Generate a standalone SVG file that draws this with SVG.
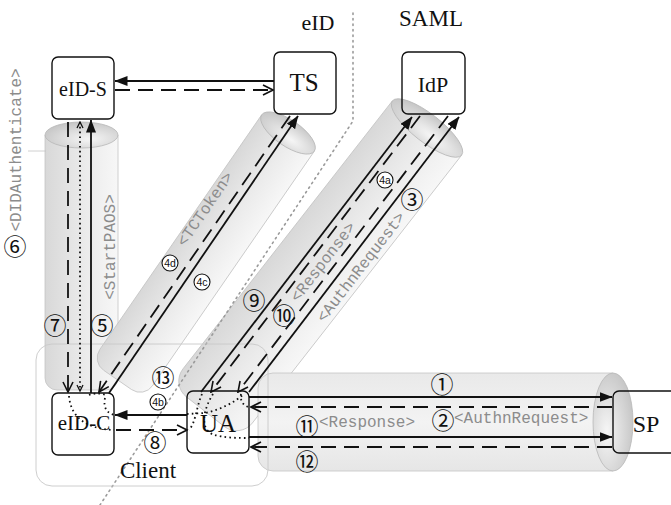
<svg xmlns="http://www.w3.org/2000/svg" width="671" height="505" viewBox="0 0 671 505">
<style>
.box{fill:none;stroke:#111;stroke-width:1.4}
.lbl{font-family:"Liberation Serif",serif;fill:#111;text-anchor:middle}
.mono{font-family:"Liberation Mono",monospace;font-size:16px;fill:#8c8c8c}
.cn{font-family:"Noto Sans CJK JP",sans-serif;font-size:23px;fill:#111;text-anchor:middle;dominant-baseline:central}
.cc{fill:#fff;stroke:#111;stroke-width:1.1}
.ct{font-family:"Liberation Sans",sans-serif;font-size:10.5px;fill:#111;text-anchor:middle;dominant-baseline:central}
.tube{stroke:#c4c4c4;stroke-width:0.8}
.cap{stroke:#b8b8b8;stroke-width:0.8}
.sol{fill:none;stroke:#111;stroke-width:1.8;marker-end:url(#fa)}
.das{fill:none;stroke:#111;stroke-width:1.8;stroke-dasharray:15 8;marker-end:url(#oa)}
.dot{fill:none;stroke:#111;stroke-width:1.8;stroke-dasharray:1.6 3.2}
</style>
<defs>
<marker id="fa" viewBox="0 0 13 10" refX="12.5" refY="5" markerWidth="13" markerHeight="10" markerUnits="userSpaceOnUse" orient="auto"><path d="M0,0 L13,5 L0,10 z" fill="#111"/></marker>
<marker id="oa" viewBox="0 0 12 12" refX="11" refY="6" markerWidth="12" markerHeight="12" markerUnits="userSpaceOnUse" orient="auto"><path d="M1,1 L11,6 L1,11" fill="none" stroke="#111" stroke-width="1.6"/></marker>
<marker id="da" viewBox="0 0 8 8" refX="7" refY="4" markerWidth="8" markerHeight="8" markerUnits="userSpaceOnUse" orient="auto-start-reverse"><path d="M1,1 L7,4 L1,7" fill="none" stroke="#111" stroke-width="1.3"/></marker>
<linearGradient id="gBody" x1="0" y1="0" x2="1" y2="0"><stop offset="0" stop-color="#d8d8d8"/><stop offset="0.55" stop-color="#ebebeb"/><stop offset="1" stop-color="#f7f7f7"/></linearGradient>
<linearGradient id="gSP" x1="0" y1="0" x2="1" y2="0"><stop offset="0" stop-color="#e9e9e9"/><stop offset="0.5" stop-color="#f3f3f3"/><stop offset="1" stop-color="#e6e6e6"/></linearGradient>
<radialGradient id="gCap" cx="0.6" cy="0.65" r="0.7"><stop offset="0" stop-color="#f6f6f6"/><stop offset="1" stop-color="#c4c4c4"/></radialGradient>
</defs>

<g id="tubes">
<g id="tube-eid" transform="translate(81.5,135)">
<path class="tube" fill="url(#gBody)" d="M-36.5,0 L-36.5,243 A12,12 0 0 0 -24.5,255 L24.5,255 A12,12 0 0 0 36.5,243 L36.5,0 Z"/>
<ellipse class="cap" fill="url(#gCap)" cx="0" cy="0" rx="36.5" ry="13"/>
</g>
<line x1="28" y1="151" x2="46" y2="151" stroke="#c4c4c4" stroke-width="0.8"/>
<g id="tube-ts" transform="translate(288,133) rotate(34.6)">
<path class="tube" fill="url(#gBody)" d="M-32,0 L-32,285 A15,15 0 0 0 -17,300 L17,300 A15,15 0 0 0 32,285 L32,0 Z"/>
<ellipse class="cap" fill="url(#gCap)" cx="0" cy="0" rx="32" ry="13"/>
</g>
<g id="tube-idp" transform="translate(427,128) rotate(38)">
<path class="tube" fill="url(#gBody)" d="M-44,0 L-44,340 A20,20 0 0 0 -24,360 L24,360 A20,20 0 0 0 44,340 L44,0 Z"/>
<ellipse class="cap" fill="url(#gCap)" cx="0" cy="0" rx="44" ry="14"/>
</g>
<g id="tube-sp" transform="translate(613,422) rotate(90)">
<path class="tube" fill="url(#gSP)" d="M-49,0 L-49,340 A15,15 0 0 0 -34,355 L34,355 A15,15 0 0 0 49,340 L49,0 Z"/>
<ellipse class="cap" fill="url(#gCap)" cx="0" cy="0" rx="49" ry="20"/>
</g>
</g>

<g id="divider">
<path d="M353,13 L353,121 L100,505" fill="none" stroke="#9a9a9a" stroke-width="1.6" stroke-dasharray="1.5 4" stroke-linecap="round"/>
<text class="lbl" x="318" y="30" font-size="22">eID</text>
<text class="lbl" x="431" y="26" font-size="23">SAML</text>
</g>

<g id="client">
<rect x="36" y="344" width="232" height="142" rx="16" fill="none" stroke="#c8c8c8" stroke-width="0.9"/>
<text class="lbl" x="148" y="478" font-size="23">Client</text>
</g>

<g id="eID-S"><rect class="box" x="52" y="57" width="62" height="62" rx="6"/><text class="lbl" x="83" y="96" font-size="20">eID-S</text></g>
<g id="TS"><rect class="box" x="274" y="52" width="62" height="62" rx="6"/><text class="lbl" x="304" y="91" font-size="25">TS</text></g>
<g id="IdP"><rect class="box" x="402" y="52" width="63" height="62" rx="6"/><text class="lbl" x="433" y="92" font-size="22">IdP</text></g>
<g id="eID-C"><rect class="box" x="52" y="393" width="62" height="62" rx="6"/><text class="lbl" x="84" y="430" font-size="21">eID-C</text></g>
<g id="UA"><rect class="box" x="187" y="391" width="62" height="62" rx="6"/><text class="lbl" x="218" y="432" font-size="25">UA</text></g>
<g id="SP"><rect class="box" x="613" y="391" width="80" height="62" rx="6"/><text class="lbl" x="646" y="432" font-size="24">SP</text></g>

<g id="connectors">
<path class="sol" d="M274,81 L115,81"/>
<path class="das" d="M115,90 L273,90"/>
<path class="das" d="M68,122 L68,392"/>
<path class="dot" d="M80,122 L80,391" marker-start="url(#da)" marker-end="url(#da)"/>
<path class="sol" d="M91,393 L91,120"/>
<path class="das" d="M290,116 L99,392"/>
<path class="sol" d="M109,393 L298,116"/>
<path class="sol" d="M201,392 L412,117"/>
<path class="das" d="M420,116 L211,392"/>
<path class="das" d="M448,116 L238,392"/>
<path class="sol" d="M249,392 L459,117"/>
<path class="sol" d="M187,415 L115,415"/>
<path class="das" d="M116,430 L187,430"/>
<path class="sol" d="M249,397 L612,397"/>
<path class="das" d="M612,407 L251,407"/>
<path class="sol" d="M249,437 L612,437"/>
<path class="das" d="M612,447 L251,447"/>
<path class="dot" d="M69,396 C71,420 90,429 114,430"/>
<path class="dot" d="M89,395 Q97,392 106,395"/>
<path class="dot" d="M105,398 C103,408 107,414 116,415"/>
<path class="dot" d="M202,394 C196,408 196,422 189,430"/>
<path class="dot" d="M213,394 C203,410 200,428 212,434 C222,438 238,438 249,438"/>
<path class="dot" d="M187,414 L205,413 C220,410 235,402 244,394"/>
<path class="dot" d="M241,394 C240,401 243,406 251,408"/>
</g>

<g id="labels">
<text class="mono" transform="translate(16,150) rotate(-90)" y="5" text-anchor="middle">&lt;DIDAuthenticate&gt;</text>
<text class="mono" transform="translate(110,247) rotate(-90)" y="5" text-anchor="middle">&lt;StartPAOS&gt;</text>
<text class="mono" transform="translate(205,209) rotate(-55.5)" y="5" text-anchor="middle">&lt;TCToken&gt;</text>
<text class="mono" transform="translate(323,262) rotate(-52.4)" y="5" text-anchor="middle">&lt;Response&gt;</text>
<text class="mono" transform="translate(361,267) rotate(-52.4)" y="5" text-anchor="middle">&lt;AuthnRequest&gt;</text>
<text class="mono" x="319" y="427">&lt;Response&gt;</text>
<text class="mono" x="454" y="423">&lt;AuthnRequest&gt;</text>
<text class="cn" x="442" y="383">①</text>
<text class="cn" x="443" y="419">②</text>
<text class="cn" x="412" y="198">③</text>
<text class="cn" x="102" y="324">⑤</text>
<text class="cn" x="15" y="245">⑥</text>
<text class="cn" x="55" y="324">⑦</text>
<text class="cn" x="155" y="441">⑧</text>
<text class="cn" x="254" y="299">⑨</text>
<text class="cn" x="284" y="314">⑩</text>
<text class="cn" x="307" y="425">⑪</text>
<text class="cn" x="307" y="460">⑫</text>
<text class="cn" x="163" y="376">⑬</text>
<g><circle class="cc" cx="385" cy="180" r="8"/><text class="ct" x="385" y="180">4a</text></g>
<g><circle class="cc" cx="158" cy="402" r="8"/><text class="ct" x="158" y="402">4b</text></g>
<g><circle class="cc" cx="202" cy="282" r="8"/><text class="ct" x="202" y="282">4c</text></g>
<g><circle class="cc" cx="170" cy="263" r="8"/><text class="ct" x="170" y="263">4d</text></g>
</g>
</svg>
